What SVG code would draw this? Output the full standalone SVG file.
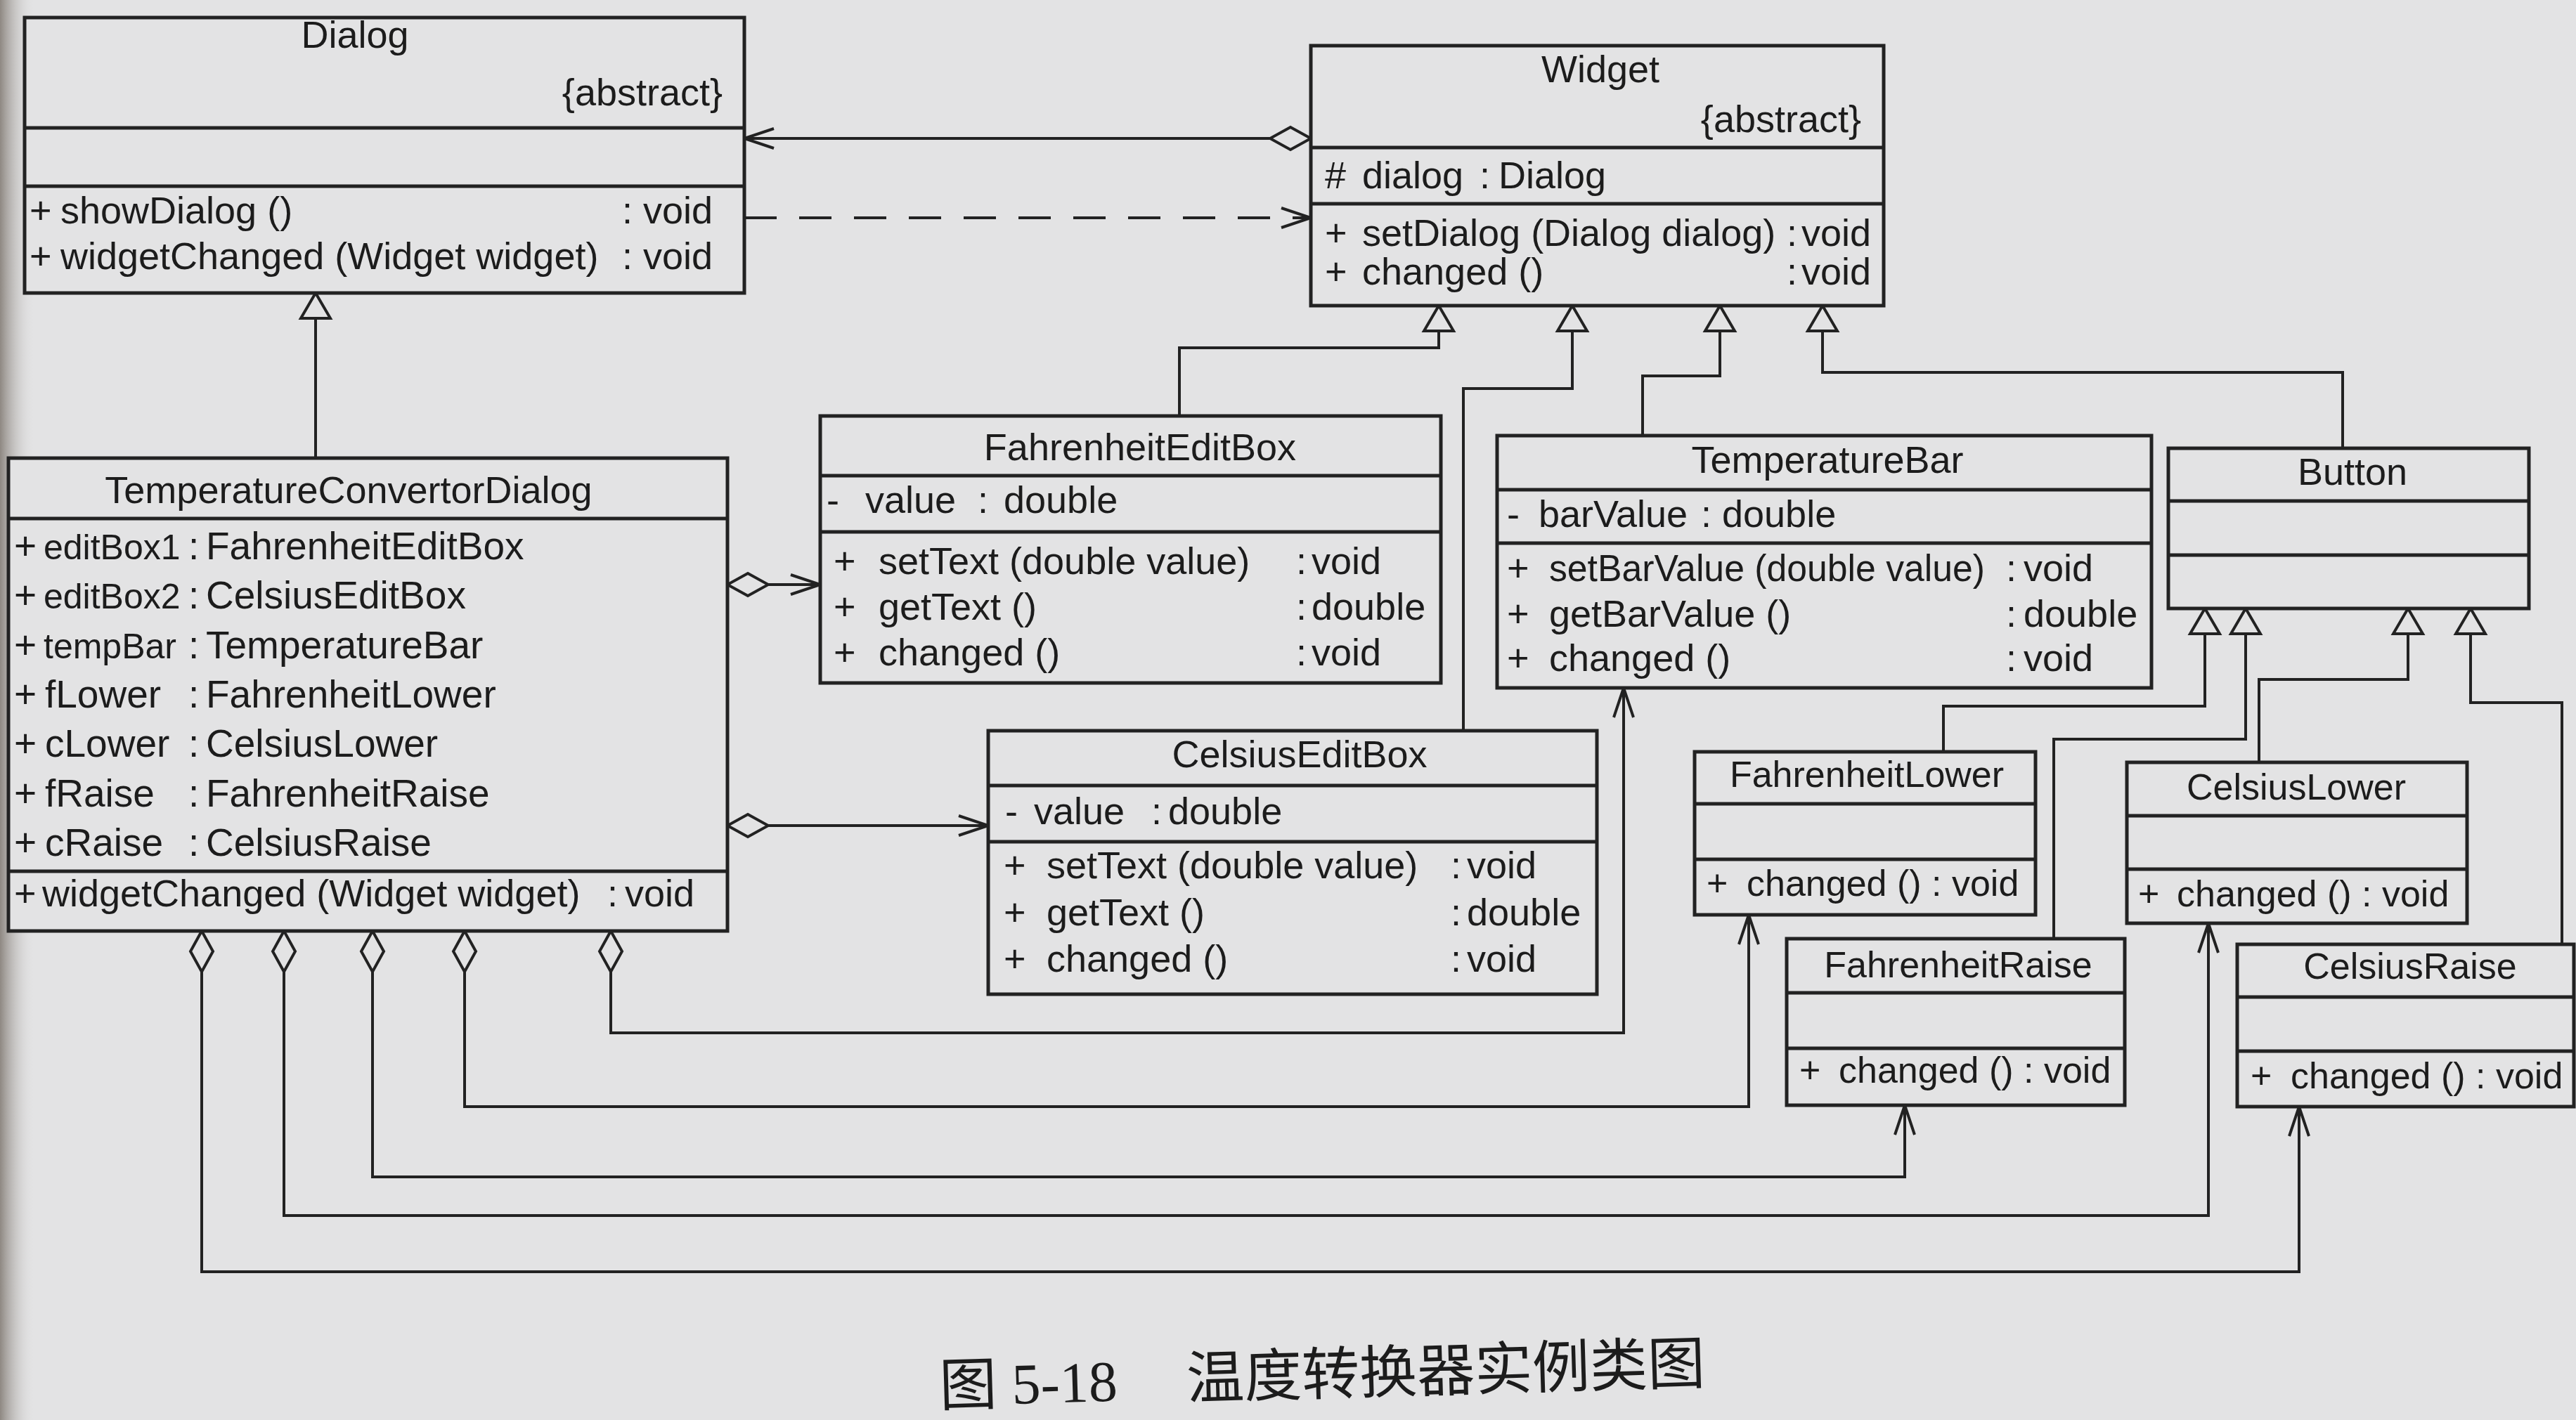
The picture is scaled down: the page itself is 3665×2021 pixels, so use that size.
<svg xmlns="http://www.w3.org/2000/svg" width="3665" height="2021" viewBox="0 0 3665 2021">
<style>
.bx{fill:#e3e3e4;stroke:#222;stroke-width:5}
.dv{stroke:#222;stroke-width:5}
.t{font-family:"Liberation Sans",Arial,sans-serif;font-size:54px;fill:#1c1c1c}
.s55{font-size:55px}
.s52{font-size:52px}
.s50{font-size:50px}
.nm{text-anchor:middle}
.ln{fill:none;stroke:#222;stroke-width:4}
.dash{stroke-dasharray:46 32}
.cap{font-family:"Liberation Serif","Noto Sans CJK SC",serif;font-size:82px;fill:#1c1c1c}
.cjk{font-family:"Noto Sans CJK SC","Liberation Serif",serif}
</style>
<defs>
<linearGradient id="edge" x1="0" y1="0" x2="1" y2="0">
<stop offset="0" stop-color="#8e8882"/>
<stop offset="1" stop-color="#e3e3e4" stop-opacity="0"/>
</linearGradient>
<marker id="tri" markerUnits="userSpaceOnUse" viewBox="-42 -26 46 52" markerWidth="46" markerHeight="52" refX="0" refY="0" orient="auto-start-reverse">
<path d="M0,0 L-36,-21 L-36,21 Z" fill="#e3e3e4" stroke="#222" stroke-width="4"/>
</marker>
<marker id="dia" markerUnits="userSpaceOnUse" viewBox="-62 -20 66 40" markerWidth="66" markerHeight="40" refX="0" refY="0" orient="auto-start-reverse">
<path d="M0,0 L-29,-16 L-58,0 L-29,16 Z" fill="#e3e3e4" stroke="#222" stroke-width="4"/>
</marker>
<marker id="arr" markerUnits="userSpaceOnUse" viewBox="-46 -18 50 36" markerWidth="50" markerHeight="36" refX="0" refY="0" orient="auto">
<path d="M-42,-14 L0,0 L-42,14" fill="none" stroke="#222" stroke-width="4"/>
</marker>
</defs>
<rect x="0" y="0" width="3665" height="2021" fill="#e3e3e4"/>
<rect x="0" y="0" width="50" height="2021" fill="url(#edge)"/>

<g id="connectors">
<path class="ln" d="M1865,197 H1059" marker-start="url(#dia)" marker-end="url(#arr)"/>
<path class="ln dash" d="M1059,310 H1865" marker-end="url(#arr)"/>
<path class="ln" d="M449,417 V652" marker-start="url(#tri)"/>
<path class="ln" d="M2047,435 V495 H1678 V592" marker-start="url(#tri)"/>
<path class="ln" d="M2237,435 V553 H2082 V1040" marker-start="url(#tri)"/>
<path class="ln" d="M2447,435 V535 H2337 V620" marker-start="url(#tri)"/>
<path class="ln" d="M2593,435 V530 H3333 V638" marker-start="url(#tri)"/>
<path class="ln" d="M3137,866 V1005 H2765 V1070" marker-start="url(#tri)"/>
<path class="ln" d="M3195,866 V1052 H2922 V1336" marker-start="url(#tri)"/>
<path class="ln" d="M3426,866 V967 H3214 V1085" marker-start="url(#tri)"/>
<path class="ln" d="M3515,866 V1000 H3645 V1344" marker-start="url(#tri)"/>
<path class="ln" d="M1035,832 H1167" marker-start="url(#dia)" marker-end="url(#arr)"/>
<path class="ln" d="M1035,1175 H1406" marker-start="url(#dia)" marker-end="url(#arr)"/>
<path class="ln" d="M869,1325 V1470 H2310 V979" marker-start="url(#dia)" marker-end="url(#arr)"/>
<path class="ln" d="M661,1325 V1575 H2488 V1302" marker-start="url(#dia)" marker-end="url(#arr)"/>
<path class="ln" d="M530,1325 V1675 H2710 V1573" marker-start="url(#dia)" marker-end="url(#arr)"/>
<path class="ln" d="M404,1325 V1730 H3142 V1314" marker-start="url(#dia)" marker-end="url(#arr)"/>
<path class="ln" d="M287,1325 V1810 H3271 V1575" marker-start="url(#dia)" marker-end="url(#arr)"/>
</g>

<g id="Dialog">
<rect class="bx" x="35" y="25" width="1024" height="392"/>
<line class="dv" x1="35" y1="182" x2="1059" y2="182"/>
<line class="dv" x1="35" y1="265" x2="1059" y2="265"/>
<text class="t nm" x="505" y="68">Dialog</text>
<text class="t" x="1028" y="150" text-anchor="end">{abstract}</text>
<text class="t" y="318"><tspan x="42">+</tspan><tspan x="86">showDialog ()</tspan><tspan x="885">:</tspan><tspan x="915">void</tspan></text>
<text class="t" y="383"><tspan x="42">+</tspan><tspan x="86">widgetChanged (Widget widget)</tspan><tspan x="885">:</tspan><tspan x="915">void</tspan></text>
</g>

<g id="Widget">
<rect class="bx" x="1865" y="65" width="815" height="370"/>
<line class="dv" x1="1865" y1="210" x2="2680" y2="210"/>
<line class="dv" x1="1865" y1="290" x2="2680" y2="290"/>
<text class="t nm" x="2277" y="117">Widget</text>
<text class="t" x="2648" y="188" text-anchor="end">{abstract}</text>
<text class="t" y="268"><tspan x="1885">#</tspan><tspan x="1938">dialog</tspan><tspan x="2105">:</tspan><tspan x="2132">Dialog</tspan></text>
<text class="t" y="350"><tspan x="1885">+</tspan><tspan x="1938">setDialog (Dialog dialog)</tspan><tspan x="2542">:</tspan><tspan x="2563">void</tspan></text>
<text class="t" y="405"><tspan x="1885">+</tspan><tspan x="1938">changed ()</tspan><tspan x="2542">:</tspan><tspan x="2563">void</tspan></text>
</g>

<g id="TemperatureConvertorDialog">
<rect class="bx" x="12" y="652" width="1023" height="673"/>
<line class="dv" x1="12" y1="738" x2="1035" y2="738"/>
<line class="dv" x1="12" y1="1240" x2="1035" y2="1240"/>
<text class="t nm" x="496" y="716">TemperatureConvertorDialog</text>
<text class="t s55" y="796"><tspan x="20">+</tspan><tspan x="62" class="s50">editBox1</tspan><tspan x="268">:</tspan><tspan x="293">FahrenheitEditBox</tspan></text>
<text class="t s55" y="866"><tspan x="20">+</tspan><tspan x="62" class="s50">editBox2</tspan><tspan x="268">:</tspan><tspan x="293">CelsiusEditBox</tspan></text>
<text class="t s55" y="937"><tspan x="20">+</tspan><tspan x="62" class="s50">tempBar</tspan><tspan x="268">:</tspan><tspan x="293">TemperatureBar</tspan></text>
<text class="t s55" y="1007"><tspan x="20">+</tspan><tspan x="64">fLower</tspan><tspan x="268">:</tspan><tspan x="293">FahrenheitLower</tspan></text>
<text class="t s55" y="1077"><tspan x="20">+</tspan><tspan x="64">cLower</tspan><tspan x="268">:</tspan><tspan x="293">CelsiusLower</tspan></text>
<text class="t s55" y="1148"><tspan x="20">+</tspan><tspan x="64">fRaise</tspan><tspan x="268">:</tspan><tspan x="293">FahrenheitRaise</tspan></text>
<text class="t s55" y="1218"><tspan x="20">+</tspan><tspan x="64">cRaise</tspan><tspan x="268">:</tspan><tspan x="293">CelsiusRaise</tspan></text>
<text class="t" y="1290"><tspan x="20">+</tspan><tspan x="60">widgetChanged (Widget widget)</tspan><tspan x="864">:</tspan><tspan x="889">void</tspan></text>
</g>

<g id="FahrenheitEditBox">
<rect class="bx" x="1167" y="592" width="883" height="380"/>
<line class="dv" x1="1167" y1="677" x2="2050" y2="677"/>
<line class="dv" x1="1167" y1="757" x2="2050" y2="757"/>
<text class="t nm" x="1622" y="655">FahrenheitEditBox</text>
<text class="t" y="730"><tspan x="1176">-</tspan><tspan x="1231">value</tspan><tspan x="1391">:</tspan><tspan x="1428">double</tspan></text>
<text class="t" y="817"><tspan x="1186">+</tspan><tspan x="1250">setText (double value)</tspan><tspan x="1844">:</tspan><tspan x="1866">void</tspan></text>
<text class="t" y="882"><tspan x="1186">+</tspan><tspan x="1250">getText ()</tspan><tspan x="1844">:</tspan><tspan x="1866">double</tspan></text>
<text class="t" y="947"><tspan x="1186">+</tspan><tspan x="1250">changed ()</tspan><tspan x="1844">:</tspan><tspan x="1866">void</tspan></text>
</g>

<g id="TemperatureBar">
<rect class="bx" x="2130" y="620" width="931" height="359"/>
<line class="dv" x1="2130" y1="697" x2="3061" y2="697"/>
<line class="dv" x1="2130" y1="773" x2="3061" y2="773"/>
<text class="t nm" x="2600" y="673">TemperatureBar</text>
<text class="t" y="750"><tspan x="2144">-</tspan><tspan x="2189">barValue</tspan><tspan x="2420">:</tspan><tspan x="2450">double</tspan></text>
<text class="t" y="827"><tspan x="2144">+</tspan><tspan x="2204" textLength="620" lengthAdjust="spacingAndGlyphs">setBarValue (double value)</tspan><tspan x="2854">:</tspan><tspan x="2879">void</tspan></text>
<text class="t" y="892"><tspan x="2144">+</tspan><tspan x="2204">getBarValue ()</tspan><tspan x="2854">:</tspan><tspan x="2879">double</tspan></text>
<text class="t" y="955"><tspan x="2144">+</tspan><tspan x="2204">changed ()</tspan><tspan x="2854">:</tspan><tspan x="2879">void</tspan></text>
</g>

<g id="Button">
<rect class="bx" x="3085" y="638" width="513" height="228"/>
<line class="dv" x1="3085" y1="713" x2="3598" y2="713"/>
<line class="dv" x1="3085" y1="790" x2="3598" y2="790"/>
<text class="t nm" x="3347" y="690">Button</text>
</g>

<g id="CelsiusEditBox">
<rect class="bx" x="1406" y="1040" width="866" height="375"/>
<line class="dv" x1="1406" y1="1118" x2="2272" y2="1118"/>
<line class="dv" x1="1406" y1="1198" x2="2272" y2="1198"/>
<text class="t nm" x="1849" y="1092">CelsiusEditBox</text>
<text class="t" y="1173"><tspan x="1430">-</tspan><tspan x="1471">value</tspan><tspan x="1638">:</tspan><tspan x="1662">double</tspan></text>
<text class="t" y="1250"><tspan x="1428">+</tspan><tspan x="1489">setText (double value)</tspan><tspan x="2064">:</tspan><tspan x="2087">void</tspan></text>
<text class="t" y="1317"><tspan x="1428">+</tspan><tspan x="1489">getText ()</tspan><tspan x="2064">:</tspan><tspan x="2087">double</tspan></text>
<text class="t" y="1383"><tspan x="1428">+</tspan><tspan x="1489">changed ()</tspan><tspan x="2064">:</tspan><tspan x="2087">void</tspan></text>
</g>

<g id="FahrenheitLower">
<rect class="bx" x="2411" y="1070" width="485" height="232"/>
<line class="dv" x1="2411" y1="1144" x2="2896" y2="1144"/>
<line class="dv" x1="2411" y1="1223" x2="2896" y2="1223"/>
<text class="t s52 nm" x="2656" y="1120">FahrenheitLower</text>
<text class="t s52" y="1275"><tspan x="2428">+</tspan><tspan x="2485">changed () : void</tspan></text>
</g>

<g id="FahrenheitRaise">
<rect class="bx" x="2542" y="1336" width="481" height="237"/>
<line class="dv" x1="2542" y1="1413" x2="3023" y2="1413"/>
<line class="dv" x1="2542" y1="1492" x2="3023" y2="1492"/>
<text class="t s52 nm" x="2786" y="1391">FahrenheitRaise</text>
<text class="t s52" y="1541"><tspan x="2560">+</tspan><tspan x="2616">changed () : void</tspan></text>
</g>

<g id="CelsiusLower">
<rect class="bx" x="3026" y="1085" width="484" height="229"/>
<line class="dv" x1="3026" y1="1161" x2="3510" y2="1161"/>
<line class="dv" x1="3026" y1="1237" x2="3510" y2="1237"/>
<text class="t s52 nm" x="3267" y="1138">CelsiusLower</text>
<text class="t s52" y="1290"><tspan x="3042">+</tspan><tspan x="3097">changed () : void</tspan></text>
</g>

<g id="CelsiusRaise">
<rect class="bx" x="3183" y="1344" width="479" height="231"/>
<line class="dv" x1="3183" y1="1419" x2="3662" y2="1419"/>
<line class="dv" x1="3183" y1="1496" x2="3662" y2="1496"/>
<text class="t s52 nm" x="3429" y="1393">CelsiusRaise</text>
<text class="t s52" y="1549"><tspan x="3202">+</tspan><tspan x="3259">changed () : void</tspan></text>
</g>

<g id="caption" transform="rotate(-1.7 1880 1985)">
<text class="cap" y="1985"><tspan class="cjk" x="1337">图</tspan><tspan x="1440">5-18</tspan><tspan class="cjk" x="1689">温度转换器实例类图</tspan></text>
</g>
</svg>
